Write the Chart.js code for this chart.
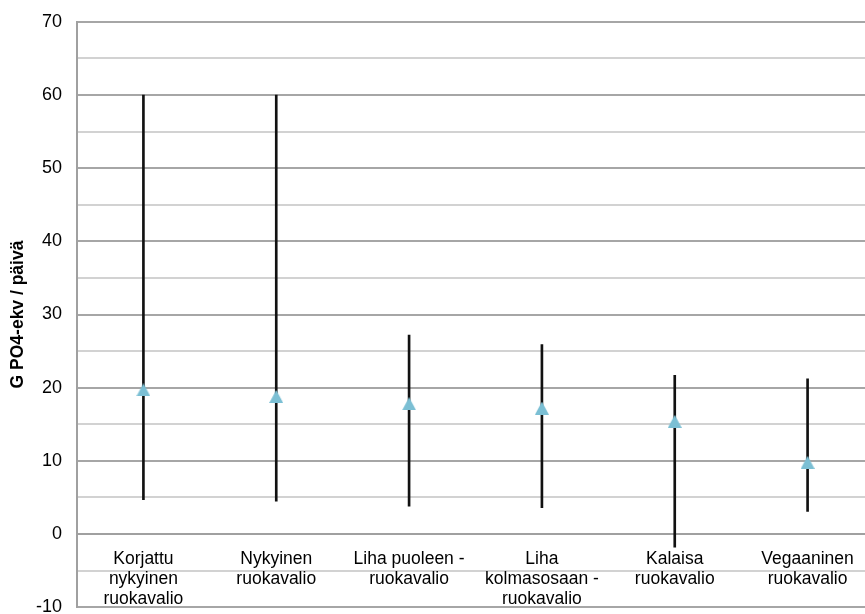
<!DOCTYPE html>
<html>
<head>
<meta charset="utf-8">
<script src="https://cdn.jsdelivr.net/npm/chart.js@4/dist/chart.umd.min.js"></script>
<style>
  html, body { margin: 0; padding: 0; background: #fff; overflow: hidden; width: 865px; height: 614px; }
  #wrap { width: 882px; height: 637px; margin-top: -4px; }
</style>
</head>
<body>
<div id="wrap"><canvas id="c" width="882" height="637"></canvas></div>
<script>
// Ruokavaliot (diets)
const categories = [
  ["Korjattu", "nykyinen", "ruokavalio"],
  ["Nykyinen", "ruokavalio"],
  ["Liha puoleen -", "ruokavalio"],
  ["Liha", "kolmasosaan -", "ruokavalio"],
  ["Kalaisa", "ruokavalio"],
  ["Vegaaninen", "ruokavalio"]
];
// Keskiarvo (triangle marker)
const meanValues = [19.7, 18.8, 17.8, 17.2, 15.4, 9.8];
// Vaihteluvälin ala- ja yläraja (whiskers)
const lowValues  = [4.7, 4.5, 3.8, 3.6, -1.8, 3.1];
const highValues = [60.0, 60.0, 27.2, 25.9, 21.7, 21.2];
// Y-akselin asteikko
const yMin = -10, yMax = 70, yStep = 5, yLabelStep = 10;
const yTitle = "G PO4-ekv / päivä";

const FONT = "'Liberation Sans', Arial, sans-serif";

// Triangle marker image, centred on its bounding box
function triangleMarker(w, h, color) {
  const c = document.createElement('canvas');
  c.width = w; c.height = h;
  const g = c.getContext('2d');
  g.fillStyle = color;
  g.beginPath();
  g.moveTo(w / 2, 0);
  g.lineTo(w, h);
  g.lineTo(0, h);
  g.closePath();
  g.fill();
  return c;
}
const marker = triangleMarker(14, 13, '#7bbfd4');

const ranges = lowValues.map((lo, i) => [lo, highValues[i]]);

new Chart(document.getElementById('c'), {
  type: 'bar',
  data: {
    labels: categories,
    datasets: [
      {
        type: 'line',
        data: meanValues,
        showLine: false,
        pointStyle: marker,
        pointRadius: 7,
        order: 0
      },
      {
        type: 'bar',
        data: ranges,
        backgroundColor: '#111111',
        borderWidth: 0,
        barThickness: 2,
        order: 1
      }
    ]
  },
  options: {
    responsive: false,
    animation: false,
    devicePixelRatio: 1,
    layout: { padding: { top: 19.5, bottom: 21, left: 0, right: 0 } },
    plugins: { legend: { display: false }, tooltip: { enabled: false } },
    scales: {
      x: {
        position: { y: 0 },
        grid: { display: false, drawTicks: false },
        border: { display: true, color: '#a0a0a0', width: 2 },
        ticks: {
          autoSkip: false,
          maxRotation: 0,
          padding: 15,
          color: '#000',
          font: { family: FONT, size: 17.5, lineHeight: 1.15 }
        }
      },
      y: {
        min: yMin,
        max: yMax,
        afterFit: (scale) => { scale.width = 77; },
        grid: {
          drawTicks: false,
          lineWidth: 2,
          color: (ctx) => (ctx.tick && ctx.tick.value % yLabelStep === 0) ? '#a6a6a6' : '#d2d2d2'
        },
        border: { display: true, color: '#a0a0a0', width: 2 },
        ticks: {
          stepSize: yStep,
          padding: 15,
          color: '#000',
          font: { family: FONT, size: 18 },
          callback: (v) => (v % yLabelStep === 0 ? v : '')
        },
        title: {
          display: true,
          text: yTitle,
          color: '#000',
          padding: { top: 8, bottom: 0 },
          font: { family: FONT, size: 17.5, weight: 'bold' }
        }
      }
    }
  }
});
</script>
</body>
</html>
